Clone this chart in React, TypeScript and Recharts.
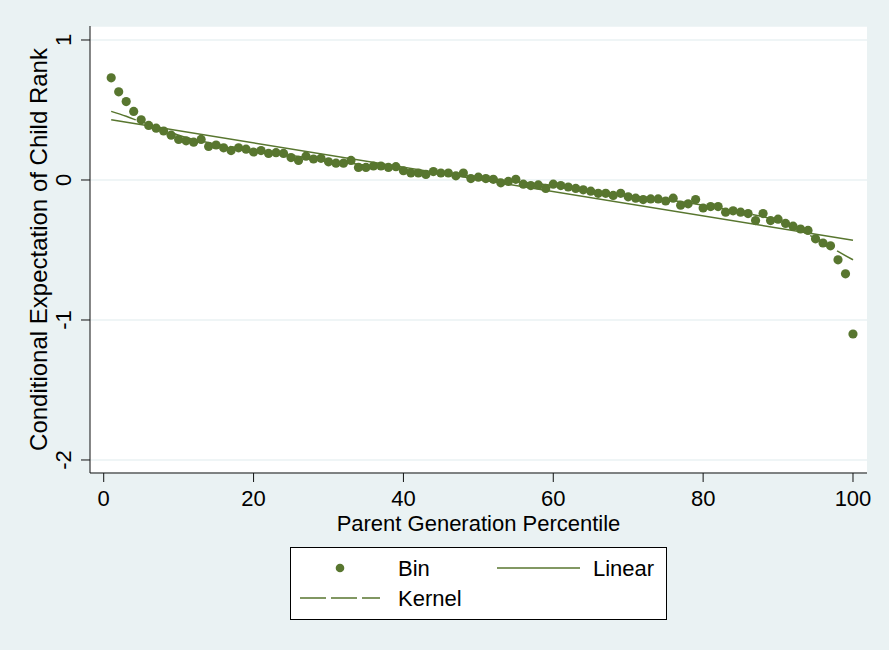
import React from "react";
import {
  ComposedChart,
  Scatter,
  Line,
  XAxis,
  YAxis,
  CartesianGrid,
  Legend,
} from "recharts";

const percentiles = [
  1, 2, 3, 4, 5, 6, 7, 8, 9, 10, 11, 12, 13, 14, 15, 16, 17, 18, 19, 20,
  21, 22, 23, 24, 25, 26, 27, 28, 29, 30, 31, 32, 33, 34, 35, 36, 37, 38, 39, 40,
  41, 42, 43, 44, 45, 46, 47, 48, 49, 50, 51, 52, 53, 54, 55, 56, 57, 58, 59, 60,
  61, 62, 63, 64, 65, 66, 67, 68, 69, 70, 71, 72, 73, 74, 75, 76, 77, 78, 79, 80,
  81, 82, 83, 84, 85, 86, 87, 88, 89, 90, 91, 92, 93, 94, 95, 96, 97, 98, 99, 100,
];

const binValues = [
  0.73, 0.63, 0.56, 0.49, 0.43, 0.39, 0.37, 0.35, 0.32, 0.29,
  0.28, 0.27, 0.29, 0.24, 0.25, 0.23, 0.21, 0.23, 0.22, 0.2,
  0.21, 0.19, 0.195, 0.19, 0.16, 0.14, 0.17, 0.15, 0.155, 0.13,
  0.12, 0.12, 0.14, 0.09, 0.09, 0.1, 0.1, 0.09, 0.095, 0.066,
  0.05, 0.05, 0.04, 0.06, 0.05, 0.05, 0.03, 0.05, 0.01, 0.02,
  0.01, 0.005, -0.02, -0.01, 0.005, -0.03, -0.04, -0.035, -0.06, -0.03,
  -0.04, -0.05, -0.06, -0.07, -0.08, -0.095, -0.095, -0.11, -0.095, -0.12,
  -0.13, -0.14, -0.135, -0.135, -0.15, -0.13, -0.18, -0.17, -0.14, -0.2,
  -0.19, -0.19, -0.23, -0.22, -0.23, -0.24, -0.29, -0.24, -0.29, -0.28,
  -0.31, -0.33, -0.35, -0.36, -0.42, -0.45, -0.47, -0.57, -0.67, -1.1,
];

const linearX = [1, 100];
const linearValues = [0.43, -0.43];

const kernelX = [1, 3, 5, 7, 10, 15, 20, 25, 30, 35, 40, 45, 50, 55, 60, 65, 70, 75, 80, 85, 90, 92, 94, 96, 98, 100];
const kernelValues = [
  0.49, 0.455, 0.415, 0.38, 0.32, 0.255, 0.215, 0.175, 0.14, 0.105, 0.075, 0.05, 0.02,
  -0.01, -0.04, -0.075, -0.11, -0.14, -0.18, -0.23, -0.29, -0.33, -0.39, -0.44, -0.51, -0.57,
];

const xTicks = [0, 20, 40, 60, 80, 100];
const yTicks = [1, 0, -1, -2];

const binData = percentiles.map((x, i) => ({ x, y: binValues[i] }));
const linearData = linearX.map((x, i) => ({ x, y: linearValues[i] }));
const kernelData = kernelX.map((x, i) => ({ x, y: kernelValues[i] }));

const GREEN = "#58762f";
const BG = "#eaf2f3";
const FONT = "'Liberation Sans', Arial, sans-serif";

const YTick = (props: any) => {
  const { x, y, payload } = props;
  return (
    <text
      x={x}
      y={y}
      transform={`rotate(-90, ${x}, ${y})`}
      textAnchor="middle"
      fontSize={22}
      fontFamily={FONT}
      fill="#000"
    >
      {payload.value}
    </text>
  );
};

const XTitle = (props: any) => {
  const vb = props.viewBox;
  return (
    <text
      x={vb.x + vb.width / 2}
      y={vb.y + 58}
      textAnchor="middle"
      fontSize={22}
      fontFamily={FONT}
      fill="#000"
    >
      Parent Generation Percentile
    </text>
  );
};

const YTitle = (props: any) => {
  const vb = props.viewBox;
  const cx = 46.5;
  const cy = vb.y + vb.height / 2;
  return (
    <text
      x={cx}
      y={cy}
      transform={`rotate(-90, ${cx}, ${cy})`}
      textAnchor="middle"
      fontSize={24}
      fontFamily={FONT}
      fill="#000"
    >
      Conditional Expectation of Child Rank
    </text>
  );
};

const LegendBox = () => (
  <div
    style={{
      position: "absolute",
      left: 290,
      top: 547,
      width: 375,
      height: 71,
      background: "#fff",
      border: "1px solid #000",
      fontFamily: FONT,
      fontSize: 22,
    }}
  >
    <svg width={375} height={71} style={{ position: "absolute", left: 0, top: 0 }}>
      <circle cx={49} cy={20} r={4.3} fill={GREEN} />
      <line x1={206} y1={20} x2={289} y2={20} stroke={GREEN} strokeWidth={1.5} />
      <line x1={9} y1={50} x2={89} y2={50} stroke={GREEN} strokeWidth={1.5} strokeDasharray="26 5" />
      <text x={107} y={28} fontSize={22} fontFamily={FONT} fill="#000">Bin</text>
      <text x={302} y={28} fontSize={22} fontFamily={FONT} fill="#000">Linear</text>
      <text x={107} y={58} fontSize={22} fontFamily={FONT} fill="#000">Kernel</text>
    </svg>
  </div>
);

export default function App() {
  return (
    <div
      style={{
        position: "absolute",
        left: 0,
        top: 0,
        width: 889,
        height: 650,
        background: BG,
        fontFamily: FONT,
      }}
    >
      <ComposedChart
        width={889}
        height={650}
        margin={{ top: 26, right: 22, bottom: 0, left: 0 }}
      >
        <CartesianGrid
          horizontal={true}
          vertical={false}
          fill="#ffffff"
          stroke={BG}
          strokeWidth={1.5}
        />
        <XAxis
          type="number"
          dataKey="x"
          domain={[-1.83, 101.87]}
          ticks={xTicks}
          allowDataOverflow
          height={177}
          tickSize={9}
          tickMargin={8}
          tick={{ fontSize: 22, fontFamily: FONT, fill: "#000" }}
          stroke="#111"
          tickLine={{ stroke: "#111" }}
          axisLine={{ stroke: "#111" }}
          label={<XTitle />}
        />
        <YAxis
          type="number"
          dataKey="y"
          domain={[-2.093, 1.1]}
          ticks={yTicks}
          allowDataOverflow
          width={90}
          tickSize={9}
          tickMargin={9.5}
          tick={<YTick />}
          stroke="#111"
          tickLine={{ stroke: "#111" }}
          axisLine={{ stroke: "#111" }}
          label={<YTitle />}
        />
        <Scatter
          data={binData}
          dataKey="y"
          fill={GREEN}
          isAnimationActive={false}
          shape={(p: any) => <circle cx={p.cx} cy={p.cy} r={4.6} fill={GREEN} />}
        />
        <Line
          data={linearData}
          dataKey="y"
          type="linear"
          stroke={GREEN}
          strokeWidth={1.5}
          dot={false}
          activeDot={false}
          isAnimationActive={false}
        />
        <Line
          data={kernelData}
          dataKey="y"
          type="monotone"
          stroke={GREEN}
          strokeWidth={1.5}
          strokeDasharray="26 5"
          dot={false}
          activeDot={false}
          isAnimationActive={false}
        />
        <Legend content={() => null} />
      </ComposedChart>
      <LegendBox />
    </div>
  );
}
